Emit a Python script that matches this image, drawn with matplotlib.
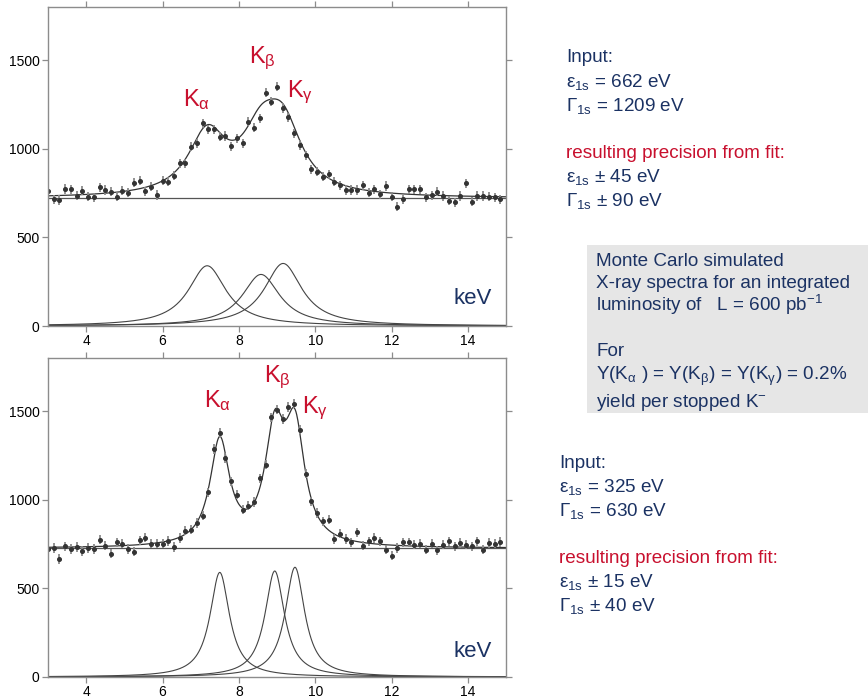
import numpy as np
import matplotlib
matplotlib.use('Agg')
import matplotlib.pyplot as plt

plt.rcParams['font.family'] = ['Liberation Sans', 'DejaVu Sans']
plt.rcParams['mathtext.fontset'] = 'custom'
plt.rcParams['mathtext.rm'] = 'Liberation Sans'
plt.rcParams['mathtext.it'] = 'Liberation Sans'
plt.rcParams['mathtext.bf'] = 'Liberation Sans'

# bin centres (keV), 0.15 keV bins
energy = np.arange(3.0, 14.9, 0.15)

# top spectrum (eps = 662 eV, Gamma = 1209 eV)
counts_top = [761, 714, 711, 773, 771, 735, 763, 729, 726, 782,
              767, 758, 729, 763, 752, 808, 820, 761, 786, 739,
              820, 814, 848, 917, 917, 1011, 1030, 1143, 1109, 1109,
              1068, 1072, 1015, 1058, 1030, 1152, 1120, 1171, 1316, 1265,
              1350, 1230, 1177, 1087, 1021, 964, 884, 870, 842, 857,
              814, 793, 767, 767, 767, 795, 752, 771, 744, 790,
              729, 673, 714, 771, 771, 771, 726, 737, 758, 733,
              707, 699, 733, 805, 701, 733, 733, 729, 726, 714]

# bottom spectrum (eps = 325 eV, Gamma = 630 eV)
counts_bot = [722, 728, 666, 737, 722, 733, 711, 728, 722, 775,
              741, 696, 760, 752, 722, 707, 771, 786, 752, 752,
              752, 767, 733, 784, 825, 831, 869, 910, 1042, 1286,
              1376, 1235, 1104, 1028, 944, 966, 987, 1122, 1198, 1466,
              1508, 1455, 1523, 1542, 1395, 1147, 991, 925, 878, 887,
              778, 808, 778, 760, 816, 741, 765, 784, 765, 718,
              684, 728, 760, 760, 746, 752, 718, 752, 714, 746,
              765, 737, 756, 746, 737, 765, 718, 756, 752, 761]

# fitted line parameters: K_alpha, K_beta, K_gamma
centre_top = [7.17, 8.58, 9.16]
height_top = [340, 291, 353]
hwhm_top = 0.60
bg_top = 721

centre_bot = [7.50, 8.94, 9.47]
height_bot = [590, 598, 619]
hwhm_bot = 0.31
bg_bot = 726

count_err = 26

navy = '#1b3263'
red = '#c8102e'
frame = '#8c8c8c'


def lorentz(x, c, h, w):
    return h * w**2 / ((x - c)**2 + w**2)


def draw_panel(ax, counts, centres, heights, w, bg, labels_pos, kev_y):
    xx = np.linspace(3, 15, 1200)
    comps = [lorentz(xx, c, h, w) for c, h in zip(centres, heights)]
    for comp in comps:
        ax.plot(xx, comp, color='#444444', lw=0.8)
    ax.axhline(bg, color='#555555', lw=0.9)
    ax.plot(xx, bg + sum(comps), color='#333333', lw=0.9)
    ax.errorbar(energy, counts, yerr=count_err, fmt='o', ms=2.6,
                color='#333333', ecolor='#8a8a8a', elinewidth=1.3, capsize=0)
    names = [r'K$_{\mathrm{\alpha}}$', r'K$_{\mathrm{\beta}}$', r'K$_{\mathrm{\gamma}}$']
    for name, (px, py) in zip(names, labels_pos):
        ax.text(px, py, name, color=red, fontsize=17, ha='center', va='center')
    ax.text(14.12, kev_y, 'keV', color=navy, fontsize=16, ha='center', va='center')
    ax.set_xlim(3, 15)
    ax.set_ylim(0, 1800)
    ax.set_xticks([4, 6, 8, 10, 12, 14])
    ax.set_yticks([0, 500, 1000, 1500])
    ax.tick_params(direction='out', length=4, width=0.9, color=frame,
                   labelsize=10, pad=2, top=True, right=True)
    for s in ax.spines.values():
        s.set_color(frame)
        s.set_linewidth(1.0)


fig = plt.figure(figsize=(8.68, 6.99), dpi=100)
ax1 = fig.add_axes([0.0553, 0.5336, 0.5277, 0.4564])
ax2 = fig.add_axes([0.0553, 0.0315, 0.5277, 0.4564])

draw_panel(ax1, counts_top, centre_top, height_top, hwhm_top, bg_top,
           [(6.9, 1275), (8.62, 1510), (9.6, 1320)], 158)
draw_panel(ax2, counts_bot, centre_bot, height_bot, hwhm_bot, bg_bot,
           [(7.45, 1562), (9.02, 1692), (10.0, 1517)], 141)


def block(x, y0, lines, step=23.8 / 699):
    y = y0
    for txt, col in lines:
        if txt:
            fig.text(x, y, txt, color=col, fontsize=13.6, ha='left', va='center')
        y -= step


eps = r'$\mathrm{\varepsilon}_{\mathrm{1s}}$'
gam = r'$\Gamma_{\mathrm{1s}}$'

block(566 / 868, 1 - 58 / 699, [
    ('Input:', navy),
    (eps + ' = 662 eV', navy),
    (gam + ' = 1209 eV', navy),
    ('', navy),
    ('resulting precision from fit:', red),
    (eps + ' \u00b1 45 eV', navy),
    (gam + ' \u00b1 90 eV', navy),
])

block(559 / 868, 1 - 463 / 699, [
    ('Input:', navy),
    (eps + ' = 325 eV', navy),
    (gam + ' = 630 eV', navy),
    ('', navy),
    ('resulting precision from fit:', red),
    (eps + ' \u00b1 15 eV', navy),
    (gam + ' \u00b1 40 eV', navy),
])

box = plt.Rectangle((587 / 868, 1 - 413 / 699), 281 / 868, 168 / 699,
                    transform=fig.transFigure, facecolor='#e6e6e6',
                    edgecolor='none', zorder=0)
fig.patches.append(box)

block(596 / 868, 1 - 261 / 699, [
    ('Monte Carlo simulated', navy),
    ('X-ray spectra for an integrated', navy),
    (r'luminosity of   L = 600 pb$^{\mathrm{-1}}$', navy),
], step=22 / 699)
block(596 / 868, 1 - 351 / 699, [
    ('For', navy),
    (r'Y(K$_{\mathrm{\alpha}}$ ) = Y(K$_{\mathrm{\beta}}$) = Y(K$_{\mathrm{\gamma}}$) = 0.2%', navy),
    (r'yield per stopped K$^{\mathrm{-}}$', navy),
], step=25.5 / 699)

fig.savefig('out.png', dpi=100)
